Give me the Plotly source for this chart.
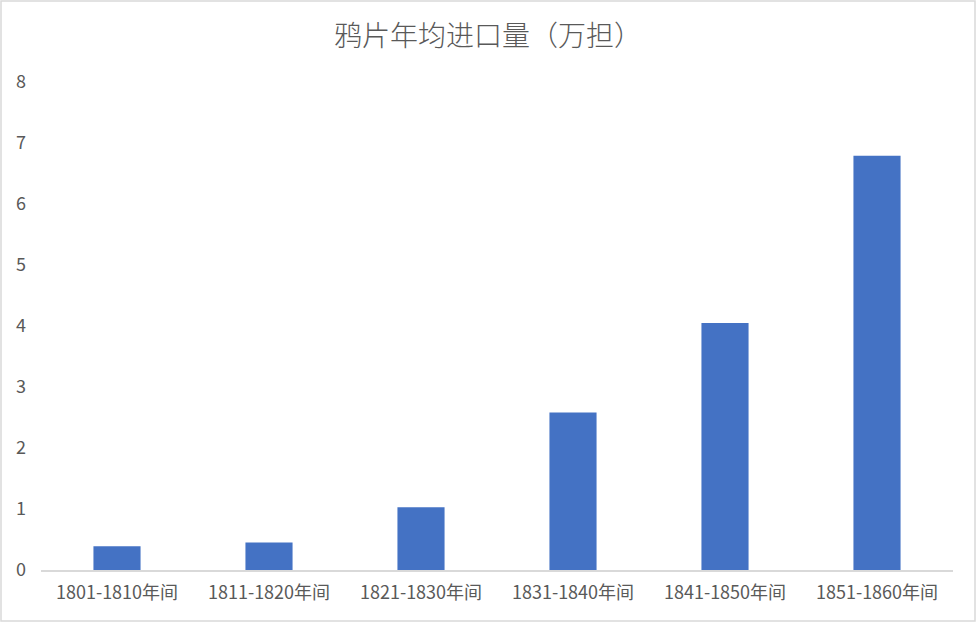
import plotly.graph_objects as go

# Data
periods = ["1801-1810年间", "1811-1820年间", "1821-1830年间",
           "1831-1840年间", "1841-1850年间", "1851-1860年间"]
imports = [0.39, 0.45, 1.03, 2.58, 4.05, 6.79]
y_ticks = [0, 1, 2, 3, 4, 5, 6, 7, 8]

W, H = 976, 622
M = dict(l=41, r=23, t=82, b=52)
FONT = "Noto Sans CJK SC"
TEXT = "#595959"

# chart border in paper coords (paper = plot area here)
pw = W - M["l"] - M["r"]
ph = H - M["t"] - M["b"]
bx0 = (1 - M["l"]) / pw
bx1 = (W - 1 - M["l"]) / pw
by0 = -(M["b"] - 1) / ph
by1 = (H - 1 - M["b"]) / ph

fig = go.Figure(
    data=[
        go.Bar(
            x=periods,
            y=imports,
            marker=dict(color="#4472C4", line=dict(width=0)),
            width=0.31,
        )
    ],
    layout=go.Layout(
        width=W,
        height=H,
        margin=M,
        paper_bgcolor="white",
        plot_bgcolor="white",
        showlegend=False,
        font=dict(family=FONT, color=TEXT, size=18),
        title=dict(
            text="鸦片年均进口量（万担）",
            x=0.5,
            xref="container",
            xanchor="center",
            y=1 - 36 / H,
            yref="container",
            yanchor="middle",
            font=dict(family=FONT, size=28, color=TEXT, weight=300),
        ),
        xaxis=dict(
            showgrid=False,
            showline=True,
            linecolor="#D9D9D9",
            linewidth=1.5,
            ticks="",
            zeroline=False,
            tickfont=dict(size=18, color=TEXT),
            ticklabelstandoff=6,
        ),
        yaxis=dict(
            range=[0, 8],
            tickvals=y_ticks,
            showgrid=False,
            showline=False,
            zeroline=False,
            ticks="",
            tickfont=dict(size=18, color=TEXT),
            ticklabelstandoff=14,
        ),
        shapes=[
            dict(
                type="rect",
                xref="paper",
                yref="paper",
                x0=bx0,
                x1=bx1,
                y0=by0,
                y1=by1,
                line=dict(color="#D9D9D9", width=1.5),
                layer="below",
            )
        ],
    ),
)

# drop the default 8px body margin so the chart fills the window
fig.write_html(
    "out.html",
    config={"displayModeBar": False},
    post_script="document.body.style.margin='0';document.body.style.overflow='hidden';",
)
